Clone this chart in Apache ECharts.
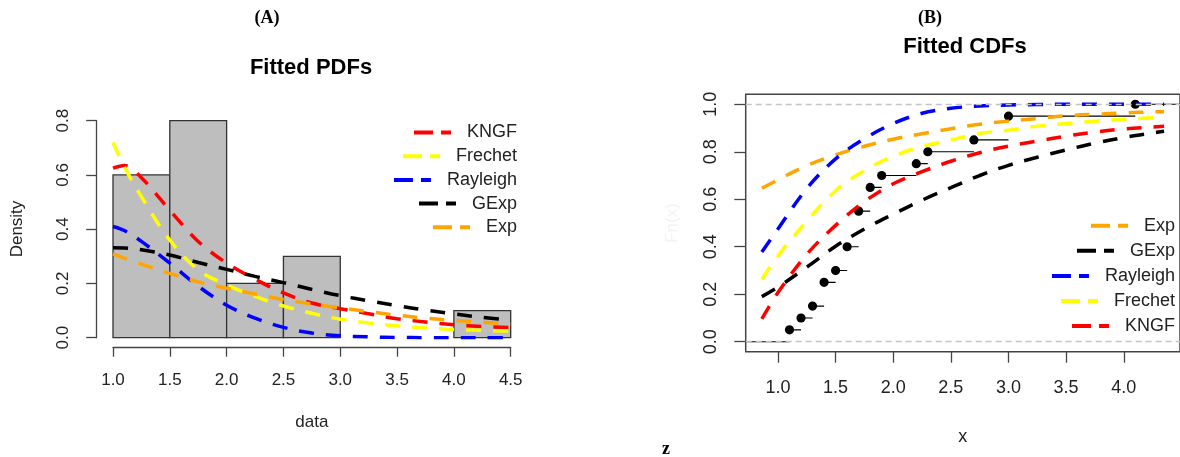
<!DOCTYPE html>
<html>
<head>
<meta charset="utf-8">
<script src="https://cdn.jsdelivr.net/npm/echarts@6/dist/echarts.min.js"></script>
<style>
  html, body { margin: 0; padding: 0; background: #ffffff; }
  #chart { width: 1180px; height: 457px; }
</style>
</head>
<body>
<div id="chart"></div>
<script>
// ---------- Panel A: histogram (density scale) ----------
const binStart   = [1.0, 1.5, 2.0, 2.5, 3.0, 3.5, 4.0];
const binEnd     = [1.5, 2.0, 2.5, 3.0, 3.5, 4.0, 4.5];
const binDensity = [0.6, 0.8, 0.2, 0.3, 0.0, 0.0, 0.1];

// Fitted densities evaluated on a common grid
const pdfX        = [1.0, 1.1, 1.25, 1.5, 1.75, 2.0, 2.25, 2.5, 2.75, 3.0, 3.25, 3.5, 3.75, 4.0, 4.25, 4.5];
const pdfKNGF     = [0.625, 0.635, 0.590, 0.470, 0.355, 0.275, 0.216, 0.165, 0.128, 0.107, 0.088, 0.070, 0.058, 0.048, 0.041, 0.037];
const pdfFrechet  = [0.720, 0.630, 0.520, 0.360, 0.250, 0.195, 0.152, 0.117, 0.090, 0.068, 0.054, 0.044, 0.036, 0.030, 0.027, 0.024];
const pdfRayleigh = [0.410, 0.395, 0.355, 0.275, 0.190, 0.120, 0.072, 0.038, 0.017, 0.007, 0.003, 0.001, 0.000, 0.000, 0.000, 0.000];
const pdfGExp     = [0.332, 0.331, 0.324, 0.305, 0.277, 0.252, 0.226, 0.203, 0.178, 0.155, 0.136, 0.118, 0.102, 0.088, 0.075, 0.065];
const pdfExp      = [0.309, 0.293, 0.271, 0.237, 0.206, 0.182, 0.161, 0.141, 0.124, 0.110, 0.096, 0.083, 0.072, 0.064, 0.057, 0.050];

const pdfXTicks = [1.0, 1.5, 2.0, 2.5, 3.0, 3.5, 4.0, 4.5];
const pdfYTicks = [0.0, 0.2, 0.4, 0.6, 0.8];
const pdfLegendNames = ['KNGF', 'Frechet', 'Rayleigh', 'GExp', 'Exp'];

// ---------- Panel B: empirical and fitted CDFs ----------
const ecdfX = [1.1, 1.2, 1.3, 1.4, 1.5, 1.6, 1.7, 1.8, 1.9, 2.2, 2.3, 2.7, 3.0, 4.1];
const ecdfY = [0.05, 0.10, 0.15, 0.25, 0.30, 0.40, 0.55, 0.65, 0.70, 0.75, 0.80, 0.85, 0.95, 1.00];

const cdfX        = [0.86, 1.0, 1.25, 1.5, 1.75, 2.0, 2.25, 2.5, 2.75, 3.0, 3.25, 3.5, 3.75, 4.0, 4.25, 4.35];
const cdfExp      = [0.646, 0.682, 0.742, 0.787, 0.823, 0.853, 0.876, 0.897, 0.916, 0.929, 0.940, 0.952, 0.958, 0.964, 0.968, 0.969];
const cdfGExp     = [0.190, 0.230, 0.314, 0.402, 0.475, 0.537, 0.596, 0.649, 0.700, 0.743, 0.777, 0.808, 0.836, 0.860, 0.879, 0.886];
const cdfRayleigh = [0.378, 0.475, 0.645, 0.770, 0.855, 0.919, 0.962, 0.983, 0.993, 0.997, 0.999, 1.000, 1.000, 1.000, 1.000, 1.000];
const cdfFrechet  = [0.262, 0.362, 0.508, 0.636, 0.721, 0.781, 0.822, 0.850, 0.877, 0.891, 0.908, 0.919, 0.929, 0.937, 0.943, 0.945];
const cdfKNGF     = [0.096, 0.207, 0.368, 0.490, 0.590, 0.665, 0.716, 0.760, 0.796, 0.824, 0.845, 0.866, 0.883, 0.896, 0.904, 0.907];

const cdfXTicks = [1.0, 1.5, 2.0, 2.5, 3.0, 3.5, 4.0];
const cdfYTicks = [0.0, 0.2, 0.4, 0.6, 0.8, 1.0];
const cdfLegendNames = ['Exp', 'GExp', 'Rayleigh', 'Frechet', 'KNGF'];

// ---------- styling ----------
const COLORS = { KNGF: '#ff0000', Frechet: '#ffff00', Rayleigh: '#0000ff', GExp: '#000000', Exp: '#ffa500' };
const SANS = '"Liberation Sans", Arial, sans-serif';
const SERIF = '"Liberation Serif", "Times New Roman", serif';
const AXIS_COLOR = '#444';
const TEXT_COLOR = '#222';
const DASH = [15, 12];
const LEGEND_ICON = 'path://M0,0H19V4H0Z M27,0H37V4H27Z';

const cdfXMin = 0.72, cdfXMax = 4.488;
const cdfYMin = -0.042, cdfYMax = 1.042;

const fmt1 = v => Number(v).toFixed(1);
const zip = (xs, ys) => xs.map((x, i) => [x, ys[i]]);

const pdfSeriesData = { KNGF: pdfKNGF, Frechet: pdfFrechet, Rayleigh: pdfRayleigh, GExp: pdfGExp, Exp: pdfExp };
const cdfSeriesData = { Exp: cdfExp, GExp: cdfGExp, Rayleigh: cdfRayleigh, Frechet: cdfFrechet, KNGF: cdfKNGF };

function curve(name, xs, ys, axisIdx) {
  return {
    type: 'line', name: name,
    xAxisIndex: axisIdx, yAxisIndex: axisIdx,
    data: zip(xs, ys),
    smooth: 0.35, symbol: 'none', clip: true,
    itemStyle: { color: COLORS[name] },
    lineStyle: { color: COLORS[name], width: 3.5, type: DASH, cap: 'butt' },
    z: 3, silent: true
  };
}

const series = [];

// histogram bars
series.push({
  type: 'custom', name: 'hist',
  xAxisIndex: 0, yAxisIndex: 0,
  data: binStart.map((s, i) => [s, binEnd[i], binDensity[i]]),
  encode: { x: [0, 1], y: 2 },
  renderItem: (params, api) => {
    const h = api.value(2);
    if (!(h > 0)) return null;
    const p0 = api.coord([api.value(0), h]);
    const p1 = api.coord([api.value(1), 0]);
    return {
      type: 'rect',
      shape: { x: p0[0], y: p0[1], width: p1[0] - p0[0], height: p1[1] - p0[1] },
      style: { fill: '#bebebe', stroke: '#333333', lineWidth: 1.3 }
    };
  },
  z: 1, silent: true
});

// fitted densities
pdfLegendNames.forEach(n => series.push(curve(n, pdfX, pdfSeriesData[n], 0)));

// empirical CDF step segments and points
const ecdfItems = [[cdfXMin, 0, ecdfX[0], 0]].concat(
  ecdfX.map((x, i) => [x, ecdfY[i], i < ecdfX.length - 1 ? ecdfX[i + 1] : cdfXMax, 1])
);
series.push({
  type: 'custom', name: 'ecdf',
  xAxisIndex: 1, yAxisIndex: 1,
  data: ecdfItems,
  encode: { x: [0, 2], y: 1 },
  clip: true,
  renderItem: (params, api) => {
    const a = api.coord([api.value(0), api.value(1)]);
    const b = api.coord([api.value(2), api.value(1)]);
    const children = [{
      type: 'line',
      shape: { x1: a[0], y1: a[1], x2: b[0], y2: b[1] },
      style: { stroke: '#000000', lineWidth: 1.2 }
    }];
    if (api.value(3)) {
      children.push({ type: 'circle', shape: { cx: a[0], cy: a[1], r: 4.6 }, style: { fill: '#000000' } });
    }
    return { type: 'group', children: children };
  },
  markLine: {
    silent: true, symbol: ['none', 'none'],
    label: { show: false },
    lineStyle: { color: '#c4c4c4', type: [6, 4], width: 1.3 },
    data: [{ yAxis: 0 }, { yAxis: 1 }]
  },
  z: 2, silent: true
});

// fitted CDFs
cdfLegendNames.forEach(n => series.push(curve(n, cdfX, cdfSeriesData[n], 1)));

// one legend block per entry so text is right-aligned like the original key
function legends(names, rightPx, topStart, step) {
  return names.map((n, i) => ({
    show: true, orient: 'horizontal',
    right: rightPx, top: topStart + i * step,
    padding: 0, itemWidth: 37, itemHeight: 4,
    icon: LEGEND_ICON, selectedMode: false,
    itemStyle: { borderWidth: 0 },
    textStyle: { fontSize: 18, color: TEXT_COLOR, fontFamily: SANS, padding: [0, 0, 0, 11] },
    data: [{ name: n, itemStyle: { color: COLORS[n], borderWidth: 0 } }]
  }));
}

const labelStyle = (size) => ({ fontSize: size, color: TEXT_COLOR, fontFamily: SANS });

const option = {
  animation: false,
  backgroundColor: '#ffffff',
  grid: [
    { left: 113, top: 120.7, width: 397.7, height: 217, containLabel: false },
    { left: 745.7, top: 94.3, width: 439.3, height: 257.4, containLabel: false,
      show: true, borderColor: AXIS_COLOR, borderWidth: 1.5, backgroundColor: 'transparent' }
  ],
  xAxis: [
    {
      type: 'value', gridIndex: 0, min: pdfXTicks[0], max: pdfXTicks[pdfXTicks.length - 1], interval: 0.5,
      offset: 10,
      axisLine: { show: true, onZero: false, lineStyle: { color: AXIS_COLOR, width: 1.3 } },
      axisTick: { show: true, inside: false, length: 9, lineStyle: { color: AXIS_COLOR, width: 1.3 } },
      axisLabel: Object.assign(labelStyle(17), { margin: 24, formatter: fmt1 }),
      splitLine: { show: false },
      name: 'data', nameLocation: 'middle', nameGap: 66,
      nameTextStyle: labelStyle(17)
    },
    {
      type: 'value', gridIndex: 1, min: cdfXMin, max: cdfXMax,
      axisLine: { show: false, onZero: false },
      axisTick: { show: true, inside: false, length: 11, customValues: cdfXTicks, lineStyle: { color: AXIS_COLOR, width: 1.3 } },
      axisLabel: Object.assign(labelStyle(18), { margin: 27, customValues: cdfXTicks, formatter: fmt1 }),
      splitLine: { show: false },
      name: 'x', nameLocation: 'middle', nameGap: 76,
      nameTextStyle: labelStyle(18)
    }
  ],
  yAxis: [
    {
      type: 'value', gridIndex: 0, min: pdfYTicks[0], max: pdfYTicks[pdfYTicks.length - 1], interval: 0.2,
      offset: 16.3,
      axisLine: { show: true, onZero: false, lineStyle: { color: AXIS_COLOR, width: 1.3 } },
      axisTick: { show: true, inside: false, length: 10.5, lineStyle: { color: AXIS_COLOR, width: 1.3 } },
      axisLabel: Object.assign(labelStyle(17), { margin: 25, rotate: 90, formatter: fmt1 }),
      splitLine: { show: false }
    },
    {
      type: 'value', gridIndex: 1, min: cdfYMin, max: cdfYMax,
      axisLine: { show: false, onZero: false },
      axisTick: { show: true, inside: false, length: 11.4, customValues: cdfYTicks, lineStyle: { color: AXIS_COLOR, width: 1.3 } },
      axisLabel: Object.assign(labelStyle(18), { margin: 26, rotate: 90, customValues: cdfYTicks, formatter: fmt1 }),
      splitLine: { show: false }
    }
  ],
  legend: legends(pdfLegendNames, 663, 133.5 - 10, 23.7)
    .concat(legends(cdfLegendNames, 5, 226.7 - 10, 25.1)),
  graphic: [
    { type: 'text', x: 267, y: 18, style: { text: '(A)', font: 'bold 18px ' + SERIF, fill: '#000', textAlign: 'center', textVerticalAlign: 'middle' } },
    { type: 'text', x: 930, y: 18, style: { text: '(B)', font: 'bold 18px ' + SERIF, fill: '#000', textAlign: 'center', textVerticalAlign: 'middle' } },
    { type: 'text', x: 311, y: 68, style: { text: 'Fitted PDFs', font: 'bold 22px ' + SANS, fill: '#000', textAlign: 'center', textVerticalAlign: 'middle' } },
    { type: 'text', x: 965, y: 47, style: { text: 'Fitted CDFs', font: 'bold 22px ' + SANS, fill: '#000', textAlign: 'center', textVerticalAlign: 'middle' } },
    { type: 'text', x: 17, y: 229, rotation: Math.PI / 2, style: { text: 'Density', font: '17px ' + SANS, fill: TEXT_COLOR, textAlign: 'center', textVerticalAlign: 'middle' } },
    { type: 'text', x: 672, y: 223, rotation: Math.PI / 2, style: { text: 'Fn(x)', font: '17px ' + SANS, fill: '#1a237e', opacity: 0.06, textAlign: 'center', textVerticalAlign: 'middle' } },
    { type: 'text', x: 666, y: 449, style: { text: 'z', font: 'bold 18px ' + SERIF, fill: '#000', textAlign: 'center', textVerticalAlign: 'middle' } }
  ],
  series: series
};

const chart = echarts.init(document.getElementById('chart'), null, { renderer: 'canvas' });
chart.setOption(option);
</script>
</body>
</html>
